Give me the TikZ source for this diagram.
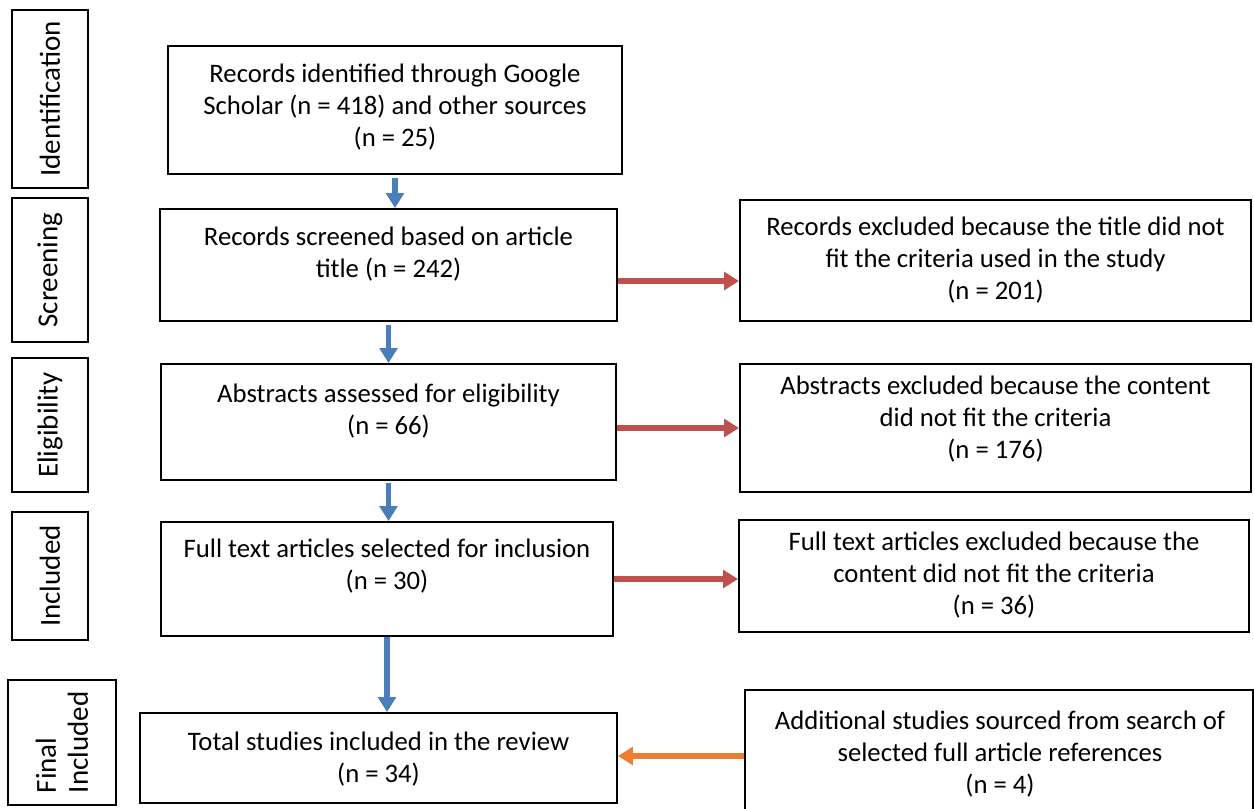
\documentclass[tikz,border=0pt]{standalone}
\usepackage{fontspec}
\setmainfont{Carlito}
\usetikzlibrary{arrows.meta,fit,calc}
\definecolor{flowblue}{HTML}{4A7EBB}
\definecolor{flowred}{HTML}{C0504D}
\definecolor{floworange}{HTML}{ED7D31}

\begin{document}
\begin{tikzpicture}[x=0.02cm, y=-0.02cm,
    every node/.style={font=\fontsize{15.2}{18.2}\selectfont},
    box/.style={draw, line width=1.1pt, inner sep=0pt},
    txt/.style={align=center, inner sep=0pt},
    stage/.style={rotate=90, inner sep=0pt, font=\fontsize{16.5}{18.2}\selectfont},
    flow/.style={line width=3.3pt, -{Triangle[width=10pt, length=8.5pt]}}]

    \useasboundingbox (0,0) rectangle (1254,808);

    % Stage boxes
    \node[box, fit={(12,10) (88,188)}] (s1) {};
    \node[stage] (l1) at (s1.center) {Identification};
    \node[box, fit={(12,198) (88,342)}] (s2) {};
    \node[stage] (l2) at (s2.center) {Screening};
    \node[box, fit={(12,358) (88,492)}] (s3) {};
    \node[stage] (l3) at (s3.center) {Eligibility};
    \node[box, fit={(12,512) (88,640)}] (s4) {};
    \node[stage] (l4) at (s4.center) {Included};
    \node[box, fit={(8,680) (116,805)}] (s5) {};
    \node[stage, align=left] (l5) at (s5.center) {Final\\Included};

    % Main flow
    \node[box, fit={(168,46) (622,174)}] (b1) {};
    \node[txt] (t1) at (395,107) {Records identified through Google\\Scholar (n = 418) and other sources\\(n = 25)};
    \node[box, fit={(160,209) (617,321)}] (b2) {};
    \node[txt] (t2) at (388.5,254) {Records screened based on article\\title (n = 242)};
    \node[box, fit={(161,364) (616,480)}] (b3) {};
    \node[txt] (t3) at (388.5,411) {Abstracts assessed for eligibility\\(n = 66)};
    \node[box, fit={(161,522) (613,636)}] (b4) {};
    \node[txt] (t4) at (387,566) {Full text articles selected for inclusion\\(n = 30)};
    \node[box, fit={(140,713) (617,803)}] (b5) {};
    \node[txt] (t5) at (378.5,759) {Total studies included in the review\\(n = 34)};

    % Excluded records
    \node[box, fit={(740,200) (1251,321)}] (r1) {};
    \node[txt] (u1) at (995.5,260) {Records excluded because the title did not\\fit the criteria used in the study\\(n = 201)};
    \node[box, fit={(740,364) (1251,492)}] (r2) {};
    \node[txt] (u2) at (995.5,419) {Abstracts excluded because the content\\did not fit the criteria\\(n = 176)};
    \node[box, fit={(739,520) (1249,632)}] (r3) {};
    \node[txt] (u3) at (994,575) {Full text articles excluded because the\\content did not fit the criteria\\(n = 36)};
    \node[box, fit={(745,690) (1253,814)}] (r4) {};
    \node[txt] (u4) at (1000,754) {Additional studies sourced from search of\\selected full article references\\(n = 4)};

    % Arrows down
    \draw[flow, flowblue, shorten <=0.06cm] (b1.south) -- (b1.south |- b2.north);
    \draw[flow, flowblue, shorten <=0.06cm] (b2.south) -- (b2.south |- b3.north);
    \draw[flow, flowblue, shorten <=0.04cm] (b3.south) -- (b3.south |- b4.north);
    \draw[flow, flowblue] (b4.south) -- (b4.south |- b5.north);

    % Arrows to the side
    \draw[flow, flowred] ([yshift=-0.32cm]b2.east) -- ([yshift=-0.32cm]b2.east -| r1.west);
    \draw[flow, flowred] (b3.east |- r2.west) -- (r2.west);
    \draw[flow, flowred] (b4.east) -- (b4.east -| r3.west);
    \draw[flow, floworange] ([yshift=-0.08cm]r4.west) -- ([yshift=-0.08cm]r4.west -| b5.east);
\end{tikzpicture}
\end{document}
